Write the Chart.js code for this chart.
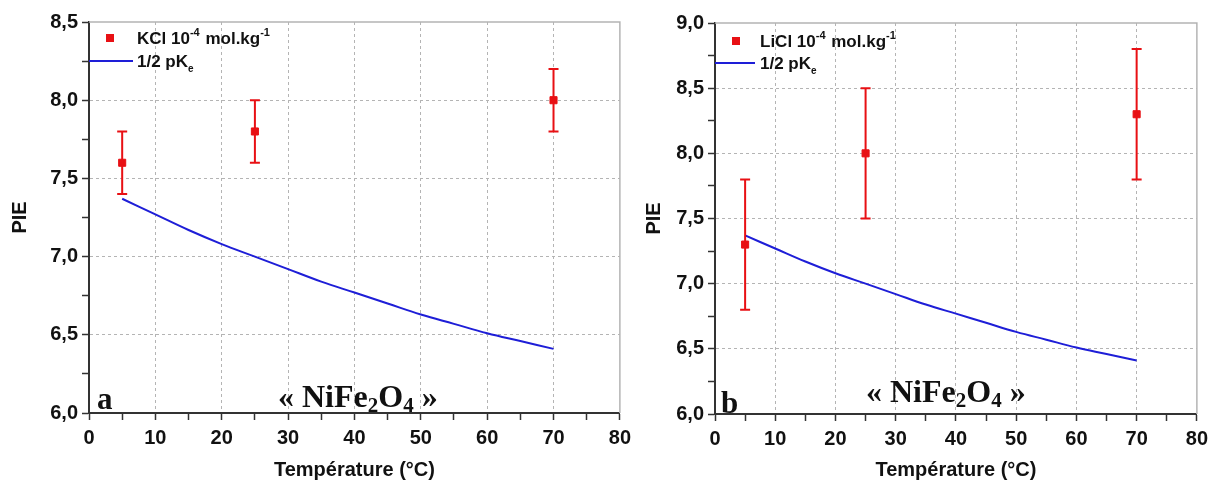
<!DOCTYPE html>
<html>
<head>
<meta charset="utf-8">
<script src="https://cdn.jsdelivr.net/npm/chart.js@4.4.1/dist/chart.umd.min.js"></script>
<style>
body { margin: 0; background: #fff; overflow: hidden; }
#wrap { display: flex; width: 1214px; height: 488px; }
#box_a { position: relative; width: 637px; height: 488px; flex: none; }
#box_b { position: relative; width: 577px; height: 488px; flex: none; }
</style>
</head>
<body>
<div id="wrap">
  <div id="box_a"><canvas id="chart_a"></canvas></div>
  <div id="box_b"><canvas id="chart_b"></canvas></div>
</div>
<script>
// 1/2 pKe curve (same curve in both panels)
const temps = [5, 10, 15, 20, 25, 30, 35, 40, 45, 50, 55, 60, 65, 70];
const half_pke = [7.37, 7.27, 7.17, 7.08, 7.00, 6.92, 6.84, 6.77, 6.70, 6.63, 6.57, 6.51, 6.46, 6.41];

// measured PIE points with their error bars
const salt_temps = [5, 25, 70];
const kcl_pie = [7.6, 7.8, 8.0];
const kcl_err = [0.2, 0.2, 0.2];
const licl_pie = [7.3, 8.0, 8.3];
const licl_err = [0.5, 0.5, 0.5];

const RED = 'rgb(232, 16, 20)';
const BLUE = 'rgb(30, 30, 215)';
const GRID = '#b4b4b4';
const AXIS = '#333';

// error bars drawn through the scales
const errorBars = {
    id: 'errorBars',
    afterDatasetsDraw(chart) {
        const ctx = chart.ctx
        const xs = chart.scales.x, ys = chart.scales.y
        chart.data.datasets.forEach(ds => {
            if (!ds.errors) return
            ctx.save()
            ctx.strokeStyle = ds.borderColor
            ctx.lineWidth = 2
            ds.data.forEach((p, j) => {
                const px = xs.getPixelForValue(p.x)
                const top = ys.getPixelForValue(p.y + ds.errors[j])
                const bot = ys.getPixelForValue(p.y - ds.errors[j])
                ctx.beginPath()
                ctx.moveTo(px, top); ctx.lineTo(px, bot)
                ctx.moveTo(px - 5, top); ctx.lineTo(px + 5, top)
                ctx.moveTo(px - 5, bot); ctx.lineTo(px + 5, bot)
                ctx.stroke()
            })
            ctx.restore()
        })
    }
}

// frame, in-plot legend and the panel labels
const decor = {
    id: 'decor',
    beforeDatasetsDraw(chart) {
        const ctx = chart.ctx, a = chart.chartArea
        ctx.save()
        ctx.strokeStyle = GRID
        ctx.lineWidth = 1.5
        ctx.beginPath()
        ctx.moveTo(a.left, a.top); ctx.lineTo(a.right, a.top); ctx.lineTo(a.right, a.bottom)
        ctx.stroke()
        ctx.restore()
    },
    afterDraw(chart, args, opts) {
        const ctx = chart.ctx, a = chart.chartArea
        const ds = chart.data.datasets
        ctx.save()
        // legend
        ctx.fillStyle = ds[0].backgroundColor
        ctx.fillRect(a.left + opts.lx - 4, a.top + opts.ly1 - 4, 8, 8)
        ctx.strokeStyle = ds[1].borderColor
        ctx.lineWidth = 2
        ctx.beginPath()
        ctx.moveTo(a.left, a.top + opts.ly2); ctx.lineTo(a.left + opts.lineEnd, a.top + opts.ly2)
        ctx.stroke()
        ctx.fillStyle = '#111'
        ctx.textBaseline = 'alphabetic'
        let x = a.left + opts.tx
        const parts1 = [[opts.salt + ' 10', 0], ['-4', 1], [' mol.kg', 0], ['-1', 1]]
        parts1.forEach(p => {
            ctx.font = p[1] ? 'bold 11px "Liberation Sans"' : 'bold 17px "Liberation Sans"'
            ctx.fillText(p[0], x, a.top + opts.ly1 + 6 - (p[1] ? 8 : 0))
            x += ctx.measureText(p[0]).width + (p[1] ? 1 : 0)
        })
        x = a.left + opts.tx
        ctx.font = 'bold 17px "Liberation Sans"'
        ctx.fillText('1/2 pK', x, a.top + opts.ly2 + 6)
        x += ctx.measureText('1/2 pK').width
        ctx.font = 'bold 10px "Liberation Sans"'
        ctx.fillText('e', x, a.top + opts.ly2 + 11)

        // panel letter
        ctx.font = 'bold 31px "Liberation Serif"'
        ctx.fillText(opts.letter, a.left + opts.letterX, a.bottom + opts.letterY)

        // « NiFe2O4 »
        x = a.left + opts.nameX
        const y = a.bottom + opts.nameY
        const parts2 = [['« NiFe', 0], ['2', 1], ['O', 0], ['4', 1], [' »', 0]]
        parts2.forEach(p => {
            ctx.font = p[1] ? 'bold 21px "Liberation Serif"' : 'bold 32px "Liberation Serif"'
            ctx.fillText(p[0], x, y + (p[1] ? 5 : 0))
            x += ctx.measureText(p[0]).width
        })
        ctx.restore()
    }
}

function comma(v) {
    return v.toFixed(1).replace('.', ',')
}

function make_chart(id, salt_values, salt_errors, cfg) {
    const salt_points = salt_temps.map((t, i) => ({x: t, y: salt_values[i]}))
    const curve_points = temps.map((t, i) => ({x: t, y: half_pke[i]}))

    const ctx = document.getElementById(id).getContext('2d')
    return new Chart(ctx, {
        type: 'scatter',
        data: {
            datasets: [{
                label: cfg.salt,
                data: salt_points,
                errors: salt_errors,
                showLine: false,
                pointStyle: 'rect',
                pointRadius: 5,
                borderWidth: 1,
                backgroundColor: RED,
                borderColor: RED,
            }, {
                label: '1/2 pKe',
                data: curve_points,
                showLine: true,
                pointRadius: 0,
                borderWidth: 2,
                borderColor: BLUE,
                backgroundColor: BLUE,
                tension: 0.4,
            }]
        },
        options: {
            responsive: true,
            maintainAspectRatio: false,
            animation: false,
            layout: { padding: { top: cfg.top, right: cfg.right, left: 0, bottom: 0 } },
            scales: {
                x: {
                    type: 'linear',
                    min: 0, max: 80,
                    afterFit: s => { s.height = cfg.xh },
                    ticks: {
                        stepSize: 5,
                        autoSkip: false,
                        maxRotation: 0,
                        padding: 6,
                        color: '#111',
                        font: { family: 'Liberation Sans', weight: 'bold', size: 20 },
                        callback: v => (v % 10 === 0 ? String(v) : '')
                    },
                    grid: {
                        color: c => (c.tick && c.tick.value % 10 === 0 && c.tick.value > 0 && c.tick.value < 80 ? GRID : 'rgba(0,0,0,0)'),
                        tickColor: AXIS,
                        tickLength: 7,
                        lineWidth: 1,
                        tickWidth: 1.5,
                    },
                    border: { color: AXIS, width: 2, dash: [3, 3] },
                    title: {
                        display: true,
                        text: 'Température (°C)',
                        color: '#111',
                        font: { family: 'Liberation Sans', weight: 'bold', size: 20 },
                        padding: { top: 0, bottom: cfg.titleB }
                    }
                },
                y: {
                    type: 'linear',
                    min: 6, max: cfg.ymax,
                    afterFit: s => { s.width = cfg.yw },
                    ticks: {
                        stepSize: 0.25,
                        autoSkip: false,
                        padding: 4,
                        color: '#111',
                        font: { family: 'Liberation Sans', weight: 'bold', size: 20 },
                        callback: v => (Math.abs(v * 2 - Math.round(v * 2)) < 1e-6 ? comma(v) : '')
                    },
                    grid: {
                        color: c => {
                            if (!c.tick) return 'rgba(0,0,0,0)'
                            const v = c.tick.value
                            const major = Math.abs(v * 2 - Math.round(v * 2)) < 1e-6
                            return major && v > 6 && v < cfg.ymax ? GRID : 'rgba(0,0,0,0)'
                        },
                        tickColor: AXIS,
                        tickLength: 7,
                        lineWidth: 1,
                        tickWidth: 1.5,
                    },
                    border: { color: AXIS, width: 2, dash: [3, 3] },
                    title: {
                        display: true,
                        text: 'PIE',
                        color: '#111',
                        font: { family: 'Liberation Sans', weight: 'bold', size: 20 },
                        padding: { top: cfg.titleL, bottom: 0 }
                    }
                }
            },
            plugins: {
                legend: { display: false },
                tooltip: { enabled: false },
                decor: cfg
            }
        },
        plugins: [errorBars, decor]
    })
}

make_chart('chart_a', kcl_pie, kcl_err, {
    salt: 'KCl', ymax: 8.5, top: 22, right: 4, yw: 89, xh: 75, titleB: 6, titleL: 8,
    lx: 21, ly1: 16, ly2: 39, lineEnd: 44, tx: 48,
    letter: 'a', letterX: 8, letterY: -4, nameX: 189, nameY: -6
})

make_chart('chart_b', licl_pie, licl_err, {
    salt: 'LiCl', ymax: 9.0, top: 23, right: 4, yw: 78, xh: 74, titleB: 6, titleL: 5,
    lx: 21, ly1: 18, ly2: 40, lineEnd: 40, tx: 45,
    letter: 'b', letterX: 6, letterY: -1, nameX: 151, nameY: -12
})
</script>
</body>
</html>
